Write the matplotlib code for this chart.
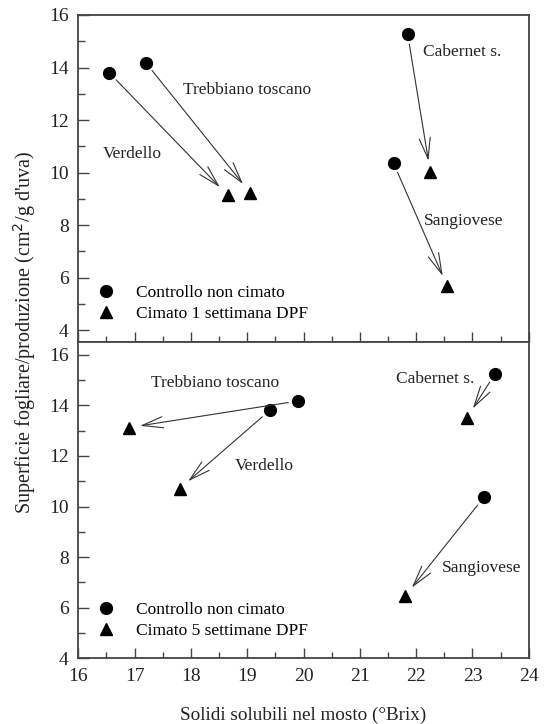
import matplotlib
matplotlib.use("Agg")
import matplotlib.pyplot as plt
from matplotlib.lines import Line2D
from matplotlib.ticker import MultipleLocator

plt.rcParams['font.family'] = ['Liberation Serif', 'DejaVu Serif']

varieties = ['Verdello', 'Trebbiano toscano', 'Cabernet s.', 'Sangiovese']

# cimatura 1 settimana DPF
brix_ctrl_1 = [16.55, 17.2, 21.85, 21.6]
sf_ctrl_1 = [13.8, 14.18, 15.26, 10.35]
brix_cim_1 = [18.65, 19.05, 22.25, 22.55]
sf_cim_1 = [9.14, 9.23, 10.03, 5.68]
lab_pos_1 = [(16.95, 10.69), (19.0, 13.14), (22.82, 14.6), (22.85, 8.15)]

# cimatura 5 settimane DPF
brix_ctrl_5 = [19.4, 19.9, 23.4, 23.2]
sf_ctrl_5 = [13.8, 14.17, 15.24, 10.36]
brix_cim_5 = [17.8, 16.9, 22.9, 21.8]
sf_cim_5 = [10.71, 13.12, 13.5, 6.45]
lab_pos_5 = [(19.3, 11.59), (18.42, 14.89), (22.34, 15.02), (23.16, 7.57)]

legend_labels_1 = ['Controllo non cimato', 'Cimato 1 settimana DPF']
legend_labels_5 = ['Controllo non cimato', 'Cimato 5 settimane DPF']

fig = plt.figure(figsize=(5.44, 7.24), dpi=100)
ax1 = fig.add_axes([0.144, 0.5276, 0.828, 0.4517])
ax2 = fig.add_axes([0.144, 0.0907, 0.828, 0.4369])

edge = '#444444'


def draw_panel(ax, bx_c, sf_c, bx_t, sf_t, lab_pos, leg_labels, ylim):
    ax.plot(bx_c, sf_c, 'o', color='black', ms=8.5, ls='none')
    ax.plot(bx_t, sf_t, '^', color='black', ms=8.5, ls='none')
    for i in range(len(bx_c)):
        ax.annotate('', xy=(bx_t[i], sf_t[i]), xytext=(bx_c[i], sf_c[i]),
                    arrowprops=dict(arrowstyle='->,head_length=1.5,head_width=0.4',
                                    color='#333333', lw=0.8,
                                    shrinkA=7, shrinkB=8))
        ax.text(lab_pos[i][0], lab_pos[i][1], varieties[i], fontsize=12.5,
                ha='center', va='center', color='#222222')
    ax.set_xlim(16, 24)
    ax.set_ylim(*ylim)
    ax.xaxis.set_major_locator(MultipleLocator(1))
    ax.xaxis.set_minor_locator(MultipleLocator(0.5))
    ax.yaxis.set_major_locator(MultipleLocator(2))
    ax.yaxis.set_minor_locator(MultipleLocator(1))
    ax.tick_params(which='both', direction='in', color=edge, width=1.0,
                   labelsize=14, pad=7, labelcolor='#222222')
    ax.tick_params(axis='x', which='major', length=7)
    ax.tick_params(axis='x', which='minor', length=4)
    ax.tick_params(axis='y', which='major', length=8)
    ax.tick_params(axis='y', which='minor', length=5)
    for sp in ax.spines.values():
        sp.set_color(edge)
        sp.set_linewidth(1.3)
    handles = [Line2D([], [], marker='o', color='black', ms=8.5, ls='none'),
               Line2D([], [], marker='^', color='black', ms=8.5, ls='none')]
    ax.legend(handles, leg_labels, loc='lower left', frameon=False,
              fontsize=12.5, handlelength=1.0, handletextpad=1.2,
              borderpad=0, borderaxespad=0, labelspacing=0.25,
              bbox_to_anchor=(0.043, 0.062))


draw_panel(ax1, brix_ctrl_1, sf_ctrl_1, brix_cim_1, sf_cim_1, lab_pos_1,
           legend_labels_1, (3.55, 16))
ax1.set_yticks([4, 6, 8, 10, 12, 14, 16])
ax1.tick_params(axis='x', labelbottom=False)

draw_panel(ax2, brix_ctrl_5, sf_ctrl_5, brix_cim_5, sf_cim_5, lab_pos_5,
           legend_labels_5, (4, 16.5))
ax2.set_yticks([4, 6, 8, 10, 12, 14, 16])

fig.text(0.558, 0.0124, 'Solidi solubili nel mosto (°Brix)', fontsize=13.8,
         ha='center', va='center', color='#222222')
fig.text(0.045, 1 - 332 / 724,
         "Superficie fogliare/produzione (cm$^2$/g d'uva)", fontsize=14.5,
         rotation=90, ha='center', va='center', color='#222222')

fig.savefig('out.png', dpi=100)
